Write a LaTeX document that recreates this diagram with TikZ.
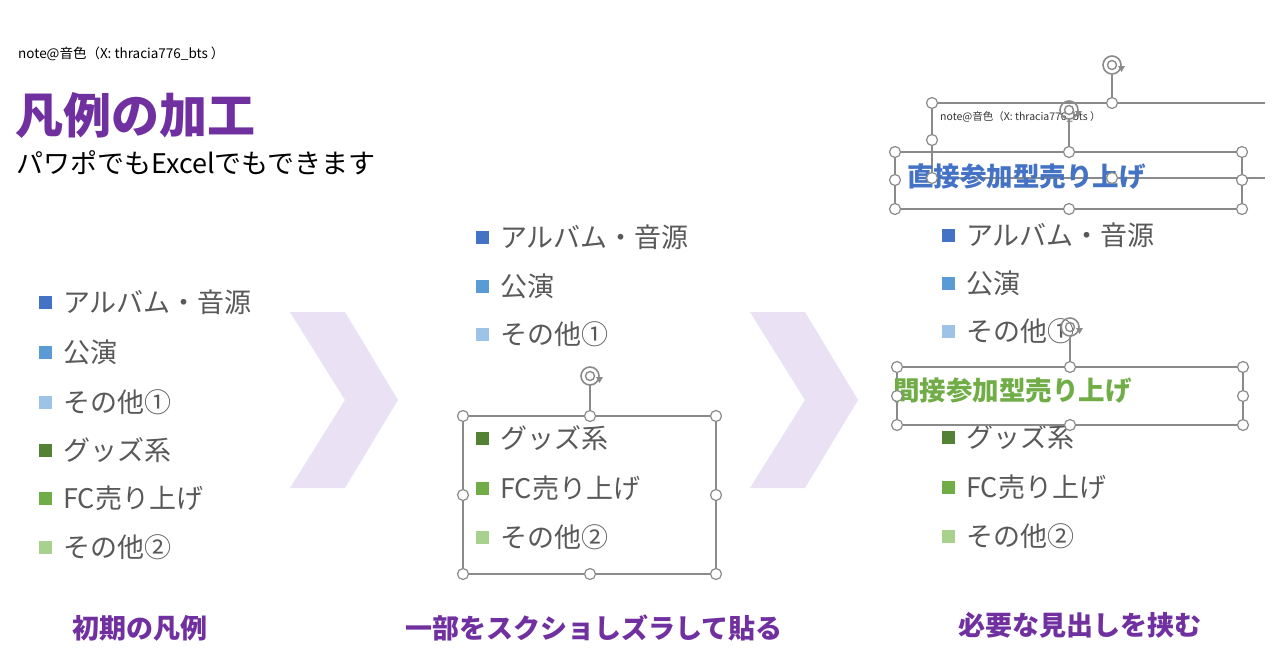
\documentclass[tikz,border=0pt]{standalone}
\usepackage{fontspec}
\setmainfont{Noto Sans CJK JP}
\newcommand\jpb{\bfseries}
\begin{document}
\begin{tikzpicture}[x=1pt,y=-1pt,
  txt/.style={text=lgray,anchor=west,font=\fontsize{27}{27}\selectfont,inner sep=0},
  sq/.style={minimum size=13pt,inner sep=0},
  capt/.style={text=purp,font=\jpb\fontsize{27}{27}\selectfont,inner sep=0},
  sel/.style={draw=hgray,line width=1.3pt},
  hd/.style={circle,draw=hgray,fill=white,line width=1.2pt,minimum size=11pt,inner sep=0},
  chev/.style={fill=lav,draw=none},
  rot/.pic={\draw[hgray,line width=1.6pt] (0,0) circle (9) ; \draw[hgray,line width=1.4pt] (0,0) circle (4.5);
            \fill[hgray] (6,1) -- (13,1) -- (9.5,7) -- cycle;}
]
\definecolor{purp}{HTML}{7030A0}\definecolor{lgray}{HTML}{595959}\definecolor{hgray}{HTML}{8A8A8A}
\definecolor{lav}{HTML}{EBE1F5}
\definecolor{c1}{HTML}{4472C4}\definecolor{c2}{HTML}{5B9BD5}\definecolor{c3}{HTML}{9DC3E6}
\definecolor{c4}{HTML}{548235}\definecolor{c5}{HTML}{70AD47}\definecolor{c6}{HTML}{A9D18E}
\useasboundingbox[fill=white] (0,0) rectangle (1280,670);
\node[anchor=west,inner sep=0,font=\fontsize{13.5}{13.5}\selectfont,text=black] (credit) at (18,54) {note@音色（X: thracia776\_bts ）};
\node[anchor=west,inner sep=0,text=purp,font=\jpb\fontsize{48}{48}\selectfont] (title) at (15,115) {凡例の加工};
\node[anchor=west,inner sep=0,text=black,font=\fontsize{27}{27}\selectfont] (sub) at (16,163) {パワポでもExcelでもできます};
% chevrons
\fill[chev] (290,312) -- (345,312) -- (398,400) -- (345,488) -- (290,488) -- (345,400) -- cycle;
\fill[chev] (750,312) -- (805,312) -- (858,400) -- (805,488) -- (750,488) -- (805,400) -- cycle;
% legends
\foreach \x/\tx/\ya/\yb/\yc/\yd/\ye/\yf/\n in {45/63/302/352/402/450/498/547/L,482/500/237/286/334/438/488/537/M,948/966/235/283/331/437/487/536/R}{
 \node[sq,fill=c1] (\n s1) at (\x,\ya) {}; \node[txt] (\n t1) at (\tx,\ya) {アルバム・音源};
 \node[sq,fill=c2] (\n s2) at (\x,\yb) {}; \node[txt] (\n t2) at (\tx,\yb) {公演};
 \node[sq,fill=c3] (\n s3) at (\x,\yc) {}; \node[txt] (\n t3) at (\tx,\yc) {その他①};
 \node[sq,fill=c4] (\n s4) at (\x,\yd) {}; \node[txt] (\n t4) at (\tx,\yd) {グッズ系};
 \node[sq,fill=c5] (\n s5) at (\x,\ye) {}; \node[txt] (\n t5) at (\tx,\ye) {FC売り上げ};
 \node[sq,fill=c6] (\n s6) at (\x,\yf) {}; \node[txt] (\n t6) at (\tx,\yf) {その他②};
}
% middle selection
\draw[sel] (463,416) rectangle (716,574);
\draw[sel] (590,385) -- (590,416);
\pic at (590,376) {rot};
\foreach \p in {(463,416),(590,416),(716,416),(463,495),(716,495),(463,574),(590,574),(716,574)} \node[hd] at \p {};
% right top selection (credit box)
\draw[sel] (1265,103) -- (932,103) -- (932,178) -- (1265,178);
\draw[sel] (1112,75) -- (1112,103);
\pic at (1112,65) {rot};
\node[anchor=west,inner sep=0,font=\fontsize{10.5}{10.5}\selectfont,text=black!80] (credit2) at (940,117) {note@音色（X: thracia776\_bts ）};
\draw[sel] (1069,119) -- (1069,152);
\pic at (1069,110) {rot};
% box 1
\draw[sel] (895,152) rectangle (1242,209);
\node[anchor=west,inner sep=0,text=c1,font=\jpb\fontsize{26.5}{26.5}\selectfont] (h1) at (907,177) {直接参加型売り上げ};
\foreach \p in {(895,152),(1069,152),(1242,152),(895,180),(1242,180),(895,209),(1069,209),(1242,209),(932,103),(1112,103),(932,140),(932,178),(1112,178)} \node[hd] at \p {};
% box 2
\draw[sel] (897,367) rectangle (1243,425);
\draw[sel] (1070,337) -- (1070,367);
\pic at (1070,327) {rot};
\node[anchor=west,inner sep=0,text=c5,font=\jpb\fontsize{26.5}{26.5}\selectfont] (h2) at (893,391) {間接参加型売り上げ};
\foreach \p in {(897,367),(1070,367),(1243,367),(897,396),(1243,396),(897,425),(1070,425),(1243,425)} \node[hd] at \p {};
% captions
\node[capt] (c1n) at (140,628) {初期の凡例};
\node[capt] (c2n) at (594,628) {一部をスクショしズラして貼る};
\node[capt] (c3n) at (1080,625) {必要な見出しを挟む};
\end{tikzpicture}
\end{document}
